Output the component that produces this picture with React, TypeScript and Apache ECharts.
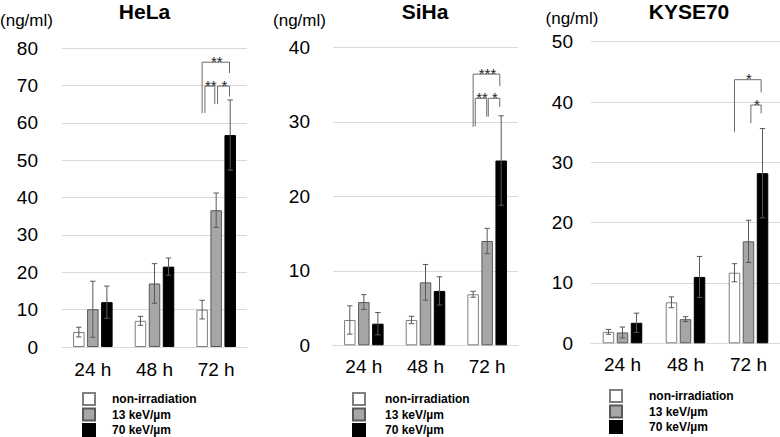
import React, { useEffect, useRef } from "react";
import * as echarts from "echarts";

const categories = ["24 h", "48 h", "72 h"];
const seriesNames = ["non-irradiation", "13 keV/µm", "70 keV/µm"];
const panelNames = ["HeLa", "SiHa", "KYSE70"];
const unitLabel = "(ng/ml)";

// HeLa (ng/ml): mean and SD
const helaNon = [4.0, 7.0, 10.0];
const helaNonSd = [1.3, 1.2, 2.5];
const hela13 = [10.1, 17.0, 36.6];
const hela13Sd = [7.5, 5.3, 4.6];
const hela70 = [12.0, 21.5, 56.7];
const hela70Sd = [4.3, 2.3, 9.4];

// SiHa
const sihaNon = [3.4, 3.4, 6.85];
const sihaNonSd = [1.9, 0.5, 0.4];
const siha13 = [5.8, 8.45, 14.0];
const siha13Sd = [1.0, 2.4, 1.7];
const siha70 = [2.9, 7.3, 24.8];
const siha70Sd = [1.5, 1.9, 6.0];

// KYSE70
const kyseNon = [1.9, 6.8, 11.7];
const kyseNonSd = [0.4, 0.9, 1.5];
const kyse13 = [1.8, 4.0, 16.9];
const kyse13Sd = [0.9, 0.4, 3.5];
const kyse70 = [3.4, 11.0, 28.2];
const kyse70Sd = [1.6, 3.4, 7.4];

// y-axis ranges
const yMax = [80, 40, 50];
const yInterval = 10;

// significance brackets at 72 h: [leftSlot, rightSlot, yTop, yLeftEnd, yRightEnd]
const helaBrackets = [
  [0, 1.95, 76.2, 62.6, 73.3],
  [0.2, 0.9, 69.8, 62.6, 65.0],
  [1.1, 1.95, 69.8, 65.0, 67.0],
];
const helaStars = ["**", "**", "*"];
const sihaBrackets = [
  [0, 1.9, 36.4, 29.3, 34.8],
  [0.15, 0.97, 33.15, 29.4, 30.7],
  [1.08, 1.9, 33.15, 30.7, 32.0],
];
const sihaStars = ["***", "**", "*"];
const kyseBrackets = [
  [0, 1.9, 43.7, 35.0, 41.6],
  [1.17, 1.9, 39.5, 36.5, 38.1],
];
const kyseStars = ["*", "*"];

const FONT = "'Liberation Sans', Arial, Helvetica, sans-serif";
const BAR_W = 11.5;
const BAR_GAP = 0.22;
const SLOT_PX = BAR_W * (1 + BAR_GAP);

const barStyles = [
  { color: "#ffffff", borderColor: "#7f7f7f", borderWidth: 1 },
  { color: "#a6a6a6", borderColor: "#595959", borderWidth: 1 },
  { color: "#000000", borderColor: "#000000", borderWidth: 1 },
];

const layouts = [
  { left: 62, width: 185, top: 48, height: 299, labelMargin: 24, titleX: 144.5, unitX: 26.5, unitY: 20.7, legendLeft: 82, legendTop: 392, legendPad: 12, xLabelMargin: 13 },
  { left: 333, width: 185, top: 47.3, height: 298, labelMargin: 23, titleX: 425, unitX: 299.5, unitY: 20.7, legendLeft: 352, legendTop: 392, legendPad: 15, xLabelMargin: 12 },
  { left: 591, width: 189, top: 41.7, height: 301.6, labelMargin: 18, titleX: 689, unitX: 572, unitY: 18.3, legendLeft: 609, legendTop: 389, legendPad: 22, xLabelMargin: 12 },
];

const panelData = [
  { means: [helaNon, hela13, hela70], sds: [helaNonSd, hela13Sd, hela70Sd], brackets: helaBrackets, stars: helaStars },
  { means: [sihaNon, siha13, siha70], sds: [sihaNonSd, siha13Sd, siha70Sd], brackets: sihaBrackets, stars: sihaStars },
  { means: [kyseNon, kyse13, kyse70], sds: [kyseNonSd, kyse13Sd, kyse70Sd], brackets: kyseBrackets, stars: kyseStars },
];

function buildOption() {
  const grid: any[] = [];
  const xAxis: any[] = [];
  const yAxis: any[] = [];
  const series: any[] = [];
  const legend: any[] = [];
  const graphic: any[] = [];

  panelData.forEach((p, k) => {
    const L = layouts[k];
    grid.push({ left: L.left, top: L.top, width: L.width, height: L.height, containLabel: false });
    xAxis.push({
      type: "category",
      gridIndex: k,
      data: categories,
      axisLine: { show: true, lineStyle: { color: "#d9d9d9", width: 1 } },
      axisTick: { show: false },
      axisLabel: { color: "#000", fontSize: 19, fontFamily: FONT, margin: L.xLabelMargin },
    });
    yAxis.push({
      type: "value",
      gridIndex: k,
      min: 0,
      max: yMax[k],
      interval: yInterval,
      axisLine: { show: false },
      axisTick: { show: false },
      splitLine: { show: true, lineStyle: { color: "#d9d9d9", width: 1 } },
      axisLabel: { color: "#000", fontSize: 19, fontFamily: FONT, margin: L.labelMargin },
    });

    for (let i = 0; i < 3; i++) {
      series.push({
        type: "bar",
        name: seriesNames[i],
        xAxisIndex: k,
        yAxisIndex: k,
        data: p.means[i],
        barWidth: BAR_W,
        barGap: BAR_GAP * 100 + "%",
        itemStyle: barStyles[i],
        z: 2,
      });
    }

    const errData: number[][] = [];
    for (let i = 0; i < 3; i++) {
      for (let j = 0; j < categories.length; j++) {
        errData.push([j, p.means[i][j] - p.sds[i][j], p.means[i][j] + p.sds[i][j], i]);
      }
    }
    series.push({
      type: "custom",
      xAxisIndex: k,
      yAxisIndex: k,
      data: errData,
      encode: { x: 0, y: [1, 2] },
      itemStyle: { color: "#595959" },
      z: 5,
      silent: true,
      renderItem: (params: any, api: any) => {
        const cat = api.value(0);
        const lo = api.value(1);
        const hi = api.value(2);
        const slot = api.value(3);
        const pLo = api.coord([cat, lo]);
        const pHi = api.coord([cat, hi]);
        const x = pLo[0] + (slot - 1) * SLOT_PX;
        const cap = 2.7;
        const st = { stroke: "#595959", lineWidth: 1 };
        return {
          type: "group",
          children: [
            { type: "line", shape: { x1: x, y1: pLo[1], x2: x, y2: pHi[1] }, style: st },
            { type: "line", shape: { x1: x - cap, y1: pHi[1], x2: x + cap, y2: pHi[1] }, style: st },
            { type: "line", shape: { x1: x - cap, y1: pLo[1], x2: x + cap, y2: pLo[1] }, style: st },
          ],
        };
      },
    });

    const stars = p.stars;
    series.push({
      type: "custom",
      xAxisIndex: k,
      yAxisIndex: k,
      data: p.brackets,
      encode: { y: [2, 3, 4] },
      itemStyle: { color: "#222222" },
      z: 6,
      silent: true,
      renderItem: (params: any, api: any) => {
        const sL = api.value(0);
        const sR = api.value(1);
        const yTop = api.value(2);
        const yL = api.value(3);
        const yR = api.value(4);
        const cat = 2;
        const pTop = api.coord([cat, yTop]);
        const pL = api.coord([cat, yL]);
        const pR = api.coord([cat, yR]);
        const xL = pTop[0] + (sL - 1) * SLOT_PX;
        const xR = pTop[0] + (sR - 1) * SLOT_PX;
        const st = { stroke: "#6b6b6b", lineWidth: 1, fill: "none" };
        return {
          type: "group",
          children: [
            {
              type: "polyline",
              shape: { points: [[xL, pL[1]], [xL, pTop[1]], [xR, pTop[1]], [xR, pR[1]]] },
              style: st,
            },
            {
              type: "text",
              x: (xL + xR) / 2 + 1,
              y: pTop[1] - 1,
              style: {
                text: stars[params.dataIndex],
                align: "center",
                verticalAlign: "middle",
                fontSize: 15,
                fontFamily: FONT,
                fill: "#222222",
                stroke: "#222222",
                lineWidth: 0,
              },
            },
          ],
        };
      },
    });

    legend.push({
      data: seriesNames,
      orient: "vertical",
      left: L.legendLeft,
      top: L.legendTop,
      height: 60,
      itemWidth: 12,
      itemHeight: 12,
      itemGap: 1.5,
      icon: "rect",
      selectedMode: false,
      padding: 0,
      textStyle: { fontWeight: "bold", fontSize: 12, lineHeight: 12, fontFamily: FONT, color: "#000", padding: [0, 0, 0, L.legendPad] },
    });

    graphic.push({
      type: "text",
      x: L.titleX,
      y: 11,
      style: { text: panelNames[k], align: "center", verticalAlign: "middle", fontSize: 21, fontWeight: "bold", fontFamily: FONT, fill: "#000" },
    });
    graphic.push({
      type: "text",
      x: L.unitX,
      y: L.unitY,
      style: { text: unitLabel, align: "center", verticalAlign: "middle", fontSize: 17, fontFamily: FONT, fill: "#000" },
    });
  });

  return {
    animation: false,
    backgroundColor: "#ffffff",
    grid,
    xAxis,
    yAxis,
    series,
    legend,
    graphic,
  };
}

export default function App() {
  const ref = useRef<HTMLDivElement>(null);
  useEffect(() => {
    if (!ref.current) return;
    const chart = echarts.init(ref.current, undefined, { renderer: "svg" });
    chart.setOption(buildOption() as any);
    return () => chart.dispose();
  }, []);
  return (
    <div
      ref={ref}
      style={{ position: "fixed", left: 0, top: 0, width: 780, height: 437, background: "#fff" }}
    />
  );
}
